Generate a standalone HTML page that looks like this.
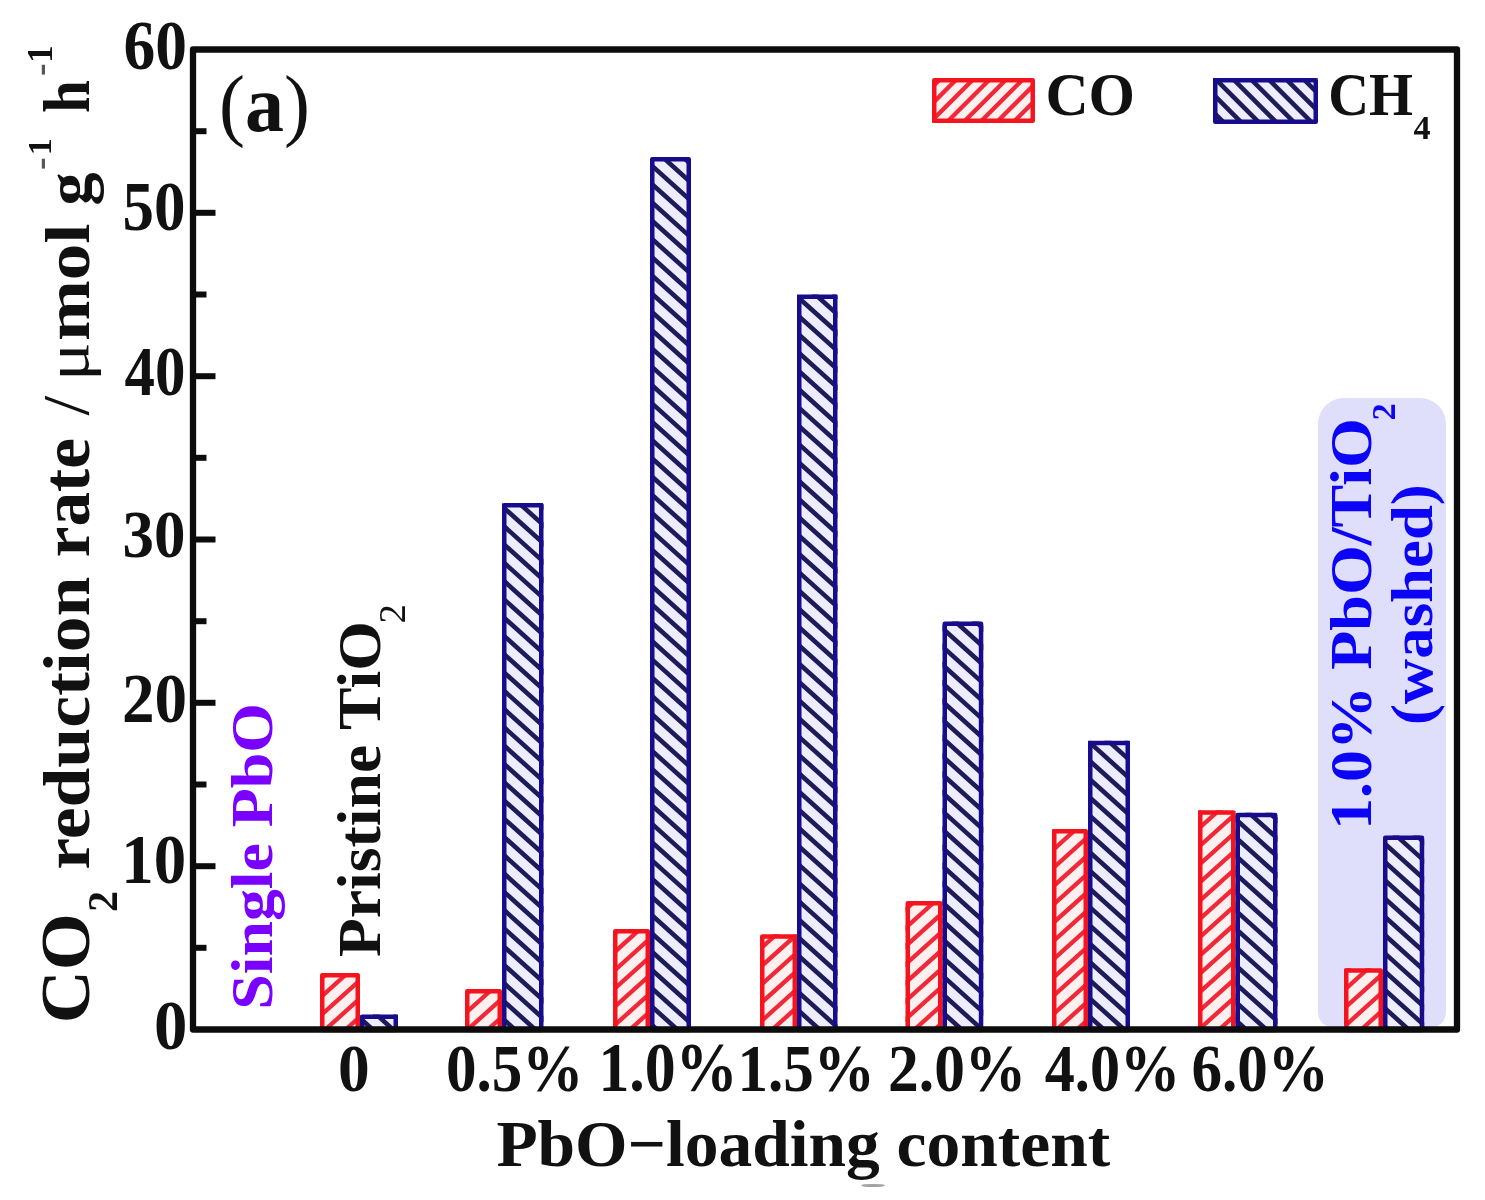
<!DOCTYPE html>
<html><head><meta charset="utf-8"><style>
html,body{margin:0;padding:0;background:#fff;}
svg{display:block;filter:blur(0.45px);}
text{font-family:"Liberation Serif",serif;font-weight:bold;}
</style></head><body>
<svg width="1485" height="1200" viewBox="0 0 1485 1200">
<defs>
<clipPath id="cb"><rect x="360" y="1014.6" width="38" height="15.399999999999977"/><rect x="502" y="503" width="41.5" height="527"/><rect x="650" y="157" width="41" height="873"/><rect x="797" y="294.5" width="40.5" height="735.5"/><rect x="942.5" y="621.5" width="40.799999999999955" height="408.5"/><rect x="1088" y="740.75" width="42" height="289.25"/><rect x="1235.5" y="812.8" width="42.0" height="217.20000000000005"/><rect x="1383" y="835.6" width="41.200000000000045" height="194.39999999999998"/></clipPath>
<clipPath id="cr"><rect x="320" y="973" width="40" height="57"/><rect x="465" y="989" width="37" height="41"/><rect x="613" y="929" width="37" height="101"/><rect x="760" y="934.3" width="37" height="95.70000000000005"/><rect x="905.5" y="901" width="37.0" height="129"/><rect x="1052" y="829" width="36" height="201"/><rect x="1198" y="810.2" width="37.5" height="219.79999999999995"/><rect x="1344" y="968.3" width="39" height="61.700000000000045"/></clipPath>
<clipPath id="clr"><rect x="932" y="78" width="103" height="45"/></clipPath>
<clipPath id="clb"><rect x="1213" y="78" width="105" height="46"/></clipPath>
</defs>
<rect x="0" y="0" width="1485" height="1200" fill="#fff"/>
<path d="M1318,424 A26,26 0 0 1 1344,398 L1420,398 A26,26 0 0 1 1446,424 L1446,1012 A16,16 0 0 1 1430,1028 L1334,1028 A16,16 0 0 1 1318,1012 Z" fill="#dfdefb"/>
<rect x="322.25" y="975.25" width="35.5" height="54.75" fill="#fff0f0"/><rect x="362.25" y="1016.85" width="33.5" height="13.149999999999977" fill="#ededff"/><rect x="467.25" y="991.25" width="32.5" height="38.75" fill="#fff0f0"/><rect x="504.25" y="505.25" width="37.0" height="524.75" fill="#ededff"/><rect x="615.25" y="931.25" width="32.5" height="98.75" fill="#fff0f0"/><rect x="652.25" y="159.25" width="36.5" height="870.75" fill="#ededff"/><rect x="762.25" y="936.55" width="32.5" height="93.45000000000005" fill="#fff0f0"/><rect x="799.25" y="296.75" width="36.0" height="733.25" fill="#ededff"/><rect x="907.75" y="903.25" width="32.5" height="126.75" fill="#fff0f0"/><rect x="944.75" y="623.75" width="36.299999999999955" height="406.25" fill="#ededff"/><rect x="1054.25" y="831.25" width="31.5" height="198.75" fill="#fff0f0"/><rect x="1090.25" y="743.0" width="37.5" height="287.0" fill="#ededff"/><rect x="1200.25" y="812.45" width="33.0" height="217.54999999999995" fill="#fff0f0"/><rect x="1237.75" y="815.05" width="37.5" height="214.95000000000005" fill="#ededff"/><rect x="1346.25" y="970.55" width="34.5" height="59.450000000000045" fill="#fff0f0"/><rect x="1385.25" y="837.85" width="36.700000000000045" height="192.14999999999998" fill="#ededff"/><rect x="934.25" y="80.25" width="98.5" height="40.5" fill="#fff0f0"/><rect x="1215.25" y="80.25" width="100.5" height="41.5" fill="#ededff"/>
<path d="M300,28.8L1440,-997.2M300,47.0L1440,-979.0M300,65.3L1440,-960.7M300,83.6L1440,-942.4M300,101.9L1440,-924.1M300,120.2L1440,-905.8M300,138.4L1440,-887.6M300,156.7L1440,-869.3M300,175.0L1440,-851.0M300,193.3L1440,-832.7M300,211.6L1440,-814.4M300,229.8L1440,-796.2M300,248.1L1440,-777.9M300,266.4L1440,-759.6M300,284.7L1440,-741.3M300,303.0L1440,-723.0M300,321.2L1440,-704.8M300,339.5L1440,-686.5M300,357.8L1440,-668.2M300,376.1L1440,-649.9M300,394.4L1440,-631.6M300,412.6L1440,-613.4M300,430.9L1440,-595.1M300,449.2L1440,-576.8M300,467.5L1440,-558.5M300,485.8L1440,-540.2M300,504.0L1440,-522.0M300,522.3L1440,-503.7M300,540.6L1440,-485.4M300,558.9L1440,-467.1M300,577.2L1440,-448.8M300,595.4L1440,-430.6M300,613.7L1440,-412.3M300,632.0L1440,-394.0M300,650.3L1440,-375.7M300,668.6L1440,-357.4M300,686.8L1440,-339.2M300,705.1L1440,-320.9M300,723.4L1440,-302.6M300,741.7L1440,-284.3M300,760.0L1440,-266.0M300,778.2L1440,-247.8M300,796.5L1440,-229.5M300,814.8L1440,-211.2M300,833.1L1440,-192.9M300,851.4L1440,-174.6M300,869.6L1440,-156.4M300,887.9L1440,-138.1M300,906.2L1440,-119.8M300,924.5L1440,-101.5M300,942.8L1440,-83.2M300,961.0L1440,-65.0M300,979.3L1440,-46.7M300,997.6L1440,-28.4M300,1015.9L1440,-10.1M300,1034.2L1440,8.2M300,1052.4L1440,26.4M300,1070.7L1440,44.7M300,1089.0L1440,63.0M300,1107.3L1440,81.3M300,1125.6L1440,99.6M300,1143.8L1440,117.8M300,1162.1L1440,136.1M300,1180.4L1440,154.4M300,1198.7L1440,172.7M300,1217.0L1440,191.0M300,1235.2L1440,209.2M300,1253.5L1440,227.5M300,1271.8L1440,245.8M300,1290.1L1440,264.1M300,1308.4L1440,282.4M300,1326.6L1440,300.6M300,1344.9L1440,318.9M300,1363.2L1440,337.2M300,1381.5L1440,355.5M300,1399.8L1440,373.8M300,1418.0L1440,392.0M300,1436.3L1440,410.3M300,1454.6L1440,428.6M300,1472.9L1440,446.9M300,1491.2L1440,465.2M300,1509.4L1440,483.4M300,1527.7L1440,501.7M300,1546.0L1440,520.0M300,1564.3L1440,538.3M300,1582.6L1440,556.6M300,1600.8L1440,574.8M300,1619.1L1440,593.1M300,1637.4L1440,611.4M300,1655.7L1440,629.7M300,1674.0L1440,648.0M300,1692.2L1440,666.2M300,1710.5L1440,684.5M300,1728.8L1440,702.8M300,1747.1L1440,721.1M300,1765.4L1440,739.4M300,1783.6L1440,757.6M300,1801.9L1440,775.9M300,1820.2L1440,794.2M300,1838.5L1440,812.5M300,1856.8L1440,830.8M300,1875.0L1440,849.0M300,1893.3L1440,867.3M300,1911.6L1440,885.6M300,1929.9L1440,903.9M300,1948.2L1440,922.2M300,1966.4L1440,940.4M300,1984.7L1440,958.7M300,2003.0L1440,977.0M300,2021.3L1440,995.3M300,2039.6L1440,1013.6M300,2057.8L1440,1031.8M300,2076.1L1440,1050.1M300,2094.4L1440,1068.4" stroke="#f02838" stroke-width="4.3" fill="none" clip-path="url(#cr)"/>
<path d="M300,-991.9L1440,34.1M300,-973.6L1440,52.4M300,-955.3L1440,70.7M300,-937.0L1440,89.0M300,-918.8L1440,107.2M300,-900.5L1440,125.5M300,-882.2L1440,143.8M300,-863.9L1440,162.1M300,-845.6L1440,180.4M300,-827.4L1440,198.6M300,-809.1L1440,216.9M300,-790.8L1440,235.2M300,-772.5L1440,253.5M300,-754.2L1440,271.8M300,-736.0L1440,290.0M300,-717.7L1440,308.3M300,-699.4L1440,326.6M300,-681.1L1440,344.9M300,-662.8L1440,363.2M300,-644.6L1440,381.4M300,-626.3L1440,399.7M300,-608.0L1440,418.0M300,-589.7L1440,436.3M300,-571.4L1440,454.6M300,-553.2L1440,472.8M300,-534.9L1440,491.1M300,-516.6L1440,509.4M300,-498.3L1440,527.7M300,-480.0L1440,546.0M300,-461.8L1440,564.2M300,-443.5L1440,582.5M300,-425.2L1440,600.8M300,-406.9L1440,619.1M300,-388.6L1440,637.4M300,-370.4L1440,655.6M300,-352.1L1440,673.9M300,-333.8L1440,692.2M300,-315.5L1440,710.5M300,-297.2L1440,728.8M300,-279.0L1440,747.0M300,-260.7L1440,765.3M300,-242.4L1440,783.6M300,-224.1L1440,801.9M300,-205.8L1440,820.2M300,-187.6L1440,838.4M300,-169.3L1440,856.7M300,-151.0L1440,875.0M300,-132.7L1440,893.3M300,-114.4L1440,911.6M300,-96.2L1440,929.8M300,-77.9L1440,948.1M300,-59.6L1440,966.4M300,-41.3L1440,984.7M300,-23.0L1440,1003.0M300,-4.8L1440,1021.2M300,13.5L1440,1039.5M300,31.8L1440,1057.8M300,50.1L1440,1076.1M300,68.4L1440,1094.4M300,86.6L1440,1112.6M300,104.9L1440,1130.9M300,123.2L1440,1149.2M300,141.5L1440,1167.5M300,159.8L1440,1185.8M300,178.0L1440,1204.0M300,196.3L1440,1222.3M300,214.6L1440,1240.6M300,232.9L1440,1258.9M300,251.2L1440,1277.2M300,269.4L1440,1295.4M300,287.7L1440,1313.7M300,306.0L1440,1332.0M300,324.3L1440,1350.3M300,342.6L1440,1368.6M300,360.8L1440,1386.8M300,379.1L1440,1405.1M300,397.4L1440,1423.4M300,415.7L1440,1441.7M300,434.0L1440,1460.0M300,452.2L1440,1478.2M300,470.5L1440,1496.5M300,488.8L1440,1514.8M300,507.1L1440,1533.1M300,525.4L1440,1551.4M300,543.6L1440,1569.6M300,561.9L1440,1587.9M300,580.2L1440,1606.2M300,598.5L1440,1624.5M300,616.8L1440,1642.8M300,635.0L1440,1661.0M300,653.3L1440,1679.3M300,671.6L1440,1697.6M300,689.9L1440,1715.9M300,708.2L1440,1734.2M300,726.4L1440,1752.4M300,744.7L1440,1770.7M300,763.0L1440,1789.0M300,781.3L1440,1807.3M300,799.6L1440,1825.6M300,817.8L1440,1843.8M300,836.1L1440,1862.1M300,854.4L1440,1880.4M300,872.7L1440,1898.7M300,891.0L1440,1917.0M300,909.2L1440,1935.2M300,927.5L1440,1953.5M300,945.8L1440,1971.8M300,964.1L1440,1990.1M300,982.4L1440,2008.4M300,1000.6L1440,2026.7M300,1018.9L1440,2044.9M300,1037.2L1440,2063.2M300,1055.5L1440,2081.5M300,1073.8L1440,2099.8" stroke="#1e1c58" stroke-width="4.6" fill="none" clip-path="url(#cb)"/>
<path d="M693.7,143.0L813.7,23.0M710.3,143.0L830.3,23.0M726.9,143.0L846.9,23.0M743.5,143.0L863.5,23.0M760.1,143.0L880.1,23.0M776.7,143.0L896.7,23.0M793.3,143.0L913.3,23.0M809.9,143.0L929.9,23.0M826.5,143.0L946.5,23.0M843.1,143.0L963.1,23.0M859.7,143.0L979.7,23.0M876.3,143.0L996.3,23.0M892.9,143.0L1012.9,23.0M909.5,143.0L1029.5,23.0M926.1,143.0L1046.1,23.0M942.7,143.0L1062.7,23.0M959.3,143.0L1079.3,23.0M975.9,143.0L1095.9,23.0M992.5,143.0L1112.5,23.0M1009.1,143.0L1129.1,23.0M1025.7,143.0L1145.7,23.0M1042.3,143.0L1162.3,23.0M1058.9,143.0L1178.9,23.0M1075.5,143.0L1195.5,23.0M1092.1,143.0L1212.1,23.0" stroke="#f02838" stroke-width="4.3" fill="none" clip-path="url(#clr)"/>
<path d="M948.6,23.3L1068.6,143.3M966.2,23.3L1086.2,143.3M983.8,23.3L1103.8,143.3M1001.4,23.3L1121.4,143.3M1019.0,23.3L1139.0,143.3M1036.6,23.3L1156.6,143.3M1054.2,23.3L1174.2,143.3M1071.8,23.3L1191.8,143.3M1089.4,23.3L1209.4,143.3M1107.0,23.3L1227.0,143.3M1124.6,23.3L1244.6,143.3M1142.2,23.3L1262.2,143.3M1159.8,23.3L1279.8,143.3M1177.4,23.3L1297.4,143.3M1195.0,23.3L1315.0,143.3M1212.6,23.3L1332.6,143.3M1230.2,23.3L1350.2,143.3M1247.8,23.3L1367.8,143.3M1265.4,23.3L1385.4,143.3M1283.0,23.3L1403.0,143.3M1300.6,23.3L1420.6,143.3M1318.2,23.3L1438.2,143.3M1335.8,23.3L1455.8,143.3M1353.4,23.3L1473.4,143.3M1371.0,23.3L1491.0,143.3" stroke="#1e1c58" stroke-width="4.6" fill="none" clip-path="url(#clb)"/>
<rect x="322.25" y="975.25" width="35.5" height="54.75" fill="none" stroke="#f5141e" stroke-width="4.5" stroke-linejoin="round"/><rect x="362.25" y="1016.85" width="33.5" height="13.149999999999977" fill="none" stroke="#160c8c" stroke-width="4.5" stroke-linejoin="round"/><rect x="467.25" y="991.25" width="32.5" height="38.75" fill="none" stroke="#f5141e" stroke-width="4.5" stroke-linejoin="round"/><rect x="504.25" y="505.25" width="37.0" height="524.75" fill="none" stroke="#160c8c" stroke-width="4.5" stroke-linejoin="round"/><rect x="615.25" y="931.25" width="32.5" height="98.75" fill="none" stroke="#f5141e" stroke-width="4.5" stroke-linejoin="round"/><rect x="652.25" y="159.25" width="36.5" height="870.75" fill="none" stroke="#160c8c" stroke-width="4.5" stroke-linejoin="round"/><rect x="762.25" y="936.55" width="32.5" height="93.45000000000005" fill="none" stroke="#f5141e" stroke-width="4.5" stroke-linejoin="round"/><rect x="799.25" y="296.75" width="36.0" height="733.25" fill="none" stroke="#160c8c" stroke-width="4.5" stroke-linejoin="round"/><rect x="907.75" y="903.25" width="32.5" height="126.75" fill="none" stroke="#f5141e" stroke-width="4.5" stroke-linejoin="round"/><rect x="944.75" y="623.75" width="36.299999999999955" height="406.25" fill="none" stroke="#160c8c" stroke-width="4.5" stroke-linejoin="round"/><rect x="1054.25" y="831.25" width="31.5" height="198.75" fill="none" stroke="#f5141e" stroke-width="4.5" stroke-linejoin="round"/><rect x="1090.25" y="743.0" width="37.5" height="287.0" fill="none" stroke="#160c8c" stroke-width="4.5" stroke-linejoin="round"/><rect x="1200.25" y="812.45" width="33.0" height="217.54999999999995" fill="none" stroke="#f5141e" stroke-width="4.5" stroke-linejoin="round"/><rect x="1237.75" y="815.05" width="37.5" height="214.95000000000005" fill="none" stroke="#160c8c" stroke-width="4.5" stroke-linejoin="round"/><rect x="1346.25" y="970.55" width="34.5" height="59.450000000000045" fill="none" stroke="#f5141e" stroke-width="4.5" stroke-linejoin="round"/><rect x="1385.25" y="837.85" width="36.700000000000045" height="192.14999999999998" fill="none" stroke="#160c8c" stroke-width="4.5" stroke-linejoin="round"/><rect x="934.25" y="80.25" width="98.5" height="40.5" fill="none" stroke="#f5141e" stroke-width="4.5" stroke-linejoin="round"/><rect x="1215.25" y="80.25" width="100.5" height="41.5" fill="none" stroke="#160c8c" stroke-width="4.5" stroke-linejoin="round"/>
<g stroke="#0c0c0c" stroke-width="6" stroke-linecap="butt"><line x1="193" y1="947.8" x2="206.5" y2="947.8"/><line x1="193" y1="866.2" x2="215.5" y2="866.2"/><line x1="193" y1="784.5" x2="206.5" y2="784.5"/><line x1="193" y1="702.8" x2="215.5" y2="702.8"/><line x1="193" y1="621.2" x2="206.5" y2="621.2"/><line x1="193" y1="539.5" x2="215.5" y2="539.5"/><line x1="193" y1="457.8" x2="206.5" y2="457.8"/><line x1="193" y1="376.2" x2="215.5" y2="376.2"/><line x1="193" y1="294.5" x2="206.5" y2="294.5"/><line x1="193" y1="212.8" x2="215.5" y2="212.8"/><line x1="193" y1="131.2" x2="206.5" y2="131.2"/></g>
<rect x="193" y="49.5" width="1264" height="980" fill="none" stroke="#0c0c0c" stroke-width="6.3" stroke-linejoin="round"/>
<text id="y0" transform="translate(153.90,1048.90) scale(0.9539,1.0051)" font-size="70" fill="#111">0</text>
<text id="y10" transform="translate(121.30,883.42) scale(0.9269,0.9967)" font-size="70" fill="#111">10</text>
<text id="y20" transform="translate(121.90,722.13) scale(0.9314,1.0093)" font-size="70" fill="#111">20</text>
<text id="y30" transform="translate(122.50,557.00) scale(0.9000,0.9565)" font-size="70" fill="#111">30</text>
<text id="y40" transform="translate(124.50,394.67) scale(0.8700,1.0000)" font-size="70" fill="#111">40</text>
<text id="y50" transform="translate(122.50,229.93) scale(0.9000,0.9946)" font-size="70" fill="#111">50</text>
<text id="y60" transform="translate(123.50,68.60) scale(0.9066,1.0089)" font-size="70" fill="#111">60</text>
<text id="x0" transform="translate(338.05,1091.40) scale(0.9060,0.9719)" font-size="70" fill="#111">0</text>
<text id="x0.5%" transform="translate(445.95,1091.30) scale(0.8731,0.9696)" font-size="70" fill="#111">0.5%</text>
<text id="x1.0%" transform="translate(598.45,1091.30) scale(0.8836,0.9935)" font-size="70" fill="#111">1.0%</text>
<text id="x1.5%" transform="translate(737.50,1091.30) scale(0.8724,0.9696)" font-size="70" fill="#111">1.5%</text>
<text id="x2.0%" transform="translate(888.10,1091.30) scale(0.8773,0.9696)" font-size="70" fill="#111">2.0%</text>
<text id="x4.0%" transform="translate(1044.75,1091.30) scale(0.8601,0.9696)" font-size="70" fill="#111">4.0%</text>
<text id="x6.0%" transform="translate(1191.50,1091.30) scale(0.8729,0.9696)" font-size="70" fill="#111">6.0%</text>
<text id="xt" transform="translate(496.40,1166.00) scale(0.9922,0.9675)" font-size="68" fill="#111">PbO&#8722;loading content</text>
<text id="a" transform="translate(218.92,131.32) scale(0.9750,1.0040)" font-size="80" fill="#111"><tspan style="font-weight:normal">(</tspan>a<tspan style="font-weight:normal">)</tspan></text>
<text id="CO" transform="translate(1045.50,114.50) scale(1.0123,1.0267)" font-size="59" fill="#111">CO</text>
<text id="CH" transform="translate(1328.20,115.40) scale(0.9579,1.0440)" font-size="59" fill="#111">CH</text>
<text id="CH4" transform="translate(1413.50,139.10) scale(1.0045,1.0045)" font-size="34" fill="#111">4</text>
<text id="t_CO" transform="translate(89.30,1023.30) rotate(-90) scale(1.0959,1.0308)" font-size="67" fill="#111">CO</text>
<text id="t_2" transform="translate(116.50,912.00) rotate(-90) scale(1.1153,1.1153)" font-size="38" fill="#111">2</text>
<text id="t_red" transform="translate(88.50,869.70) rotate(-90) scale(1.0687,0.9688)" font-size="67" fill="#111">reduction</text>
<text id="t_rate" transform="translate(88.70,557.30) rotate(-90) scale(1.0340,1.0055)" font-size="67" fill="#111">rate</text>
<text id="t_sl" transform="translate(87.90,415.50) rotate(-90) scale(1.0601,0.9788)" font-size="67" fill="#111" style="font-weight:normal">/</text>
<text id="t_mu" transform="translate(87.70,381.20) rotate(-90) scale(1.0857,0.9005)" font-size="67" fill="#111" style="font-weight:normal">&#956;</text>
<text id="t_g" transform="translate(89.60,205.60) rotate(-90) scale(0.9885,0.9470)" font-size="67" fill="#111">g</text>
<text id="t_m1" transform="translate(52.20,170.00) rotate(-90)" font-size="38" fill="#111" opacity="0.7">-</text>
<text id="t_11" transform="translate(51.05,155.20) rotate(-90) scale(0.8893,0.8893)" font-size="38" fill="#111">1</text>
<text id="t_h" transform="translate(88.50,113.00) rotate(-90) scale(0.8833,0.9688)" font-size="67" fill="#111">h</text>
<text id="t_m2" transform="translate(52.20,76.00) rotate(-90)" font-size="38" fill="#111" opacity="0.7">-</text>
<text id="t_12" transform="translate(52.00,62.80) rotate(-90) scale(0.9163,0.9163)" font-size="38" fill="#111">1</text>
<text id="single" transform="translate(272.20,1009.80) rotate(-90) scale(1.0460,0.9594)" font-size="61" fill="#7a00ff">Single PbO</text>
<text id="pristine" transform="translate(380.30,957.10) rotate(-90) scale(1.0448,1.0077)" font-size="61" fill="#111">Pristine TiO</text>
<text id="pristine2" transform="translate(405.20,623.60) rotate(-90) scale(1.0783,1.0783)" font-size="36" fill="#111" style="font-weight:normal">2</text>
<text id="w1" transform="translate(1371.00,830.10) rotate(-90) scale(1.0683,1.0000)" font-size="60" fill="#0c04f6">1.0% PbO/TiO</text>
<text id="w1s" transform="translate(1395.20,420.40) rotate(-90) scale(1.0182,1.0182)" font-size="34" fill="#0c04f6">2</text>
<text id="w2" transform="translate(1432.30,725.10) rotate(-90) scale(1.0474,0.9743)" font-size="60" fill="#0c04f6">(washed)</text>
<text id="t_mol" transform="translate(89.20,341.10) rotate(-90) scale(1.0899,0.9597)" font-size="67" fill="#111">mol</text>
<ellipse cx="873" cy="1185.5" rx="12" ry="1.6" fill="#555" opacity="0.55"/>
</svg>
</body></html>
